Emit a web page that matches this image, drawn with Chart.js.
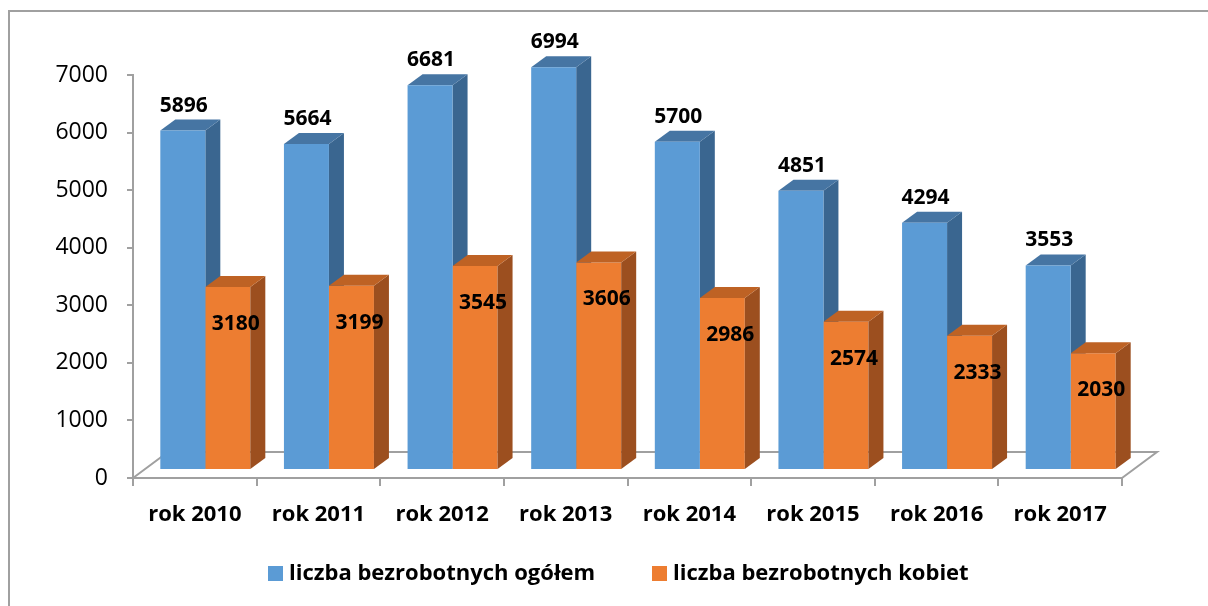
<!DOCTYPE html>
<html>
<head>
<meta charset="utf-8">
<script src="https://cdn.jsdelivr.net/npm/chart.js@4/dist/chart.umd.min.js"></script>
<style>
  html, body { margin: 0; padding: 0; background: #fff; }
  canvas { display: block; }
</style>
</head>
<body>
<canvas id="c" width="1208" height="606"></canvas>
<script>
const categories = ['rok 2010', 'rok 2011', 'rok 2012', 'rok 2013', 'rok 2014', 'rok 2015', 'rok 2016', 'rok 2017'];
const totalValues = [5896, 5664, 6681, 6994, 5700, 4851, 4294, 3553];
const womenValues = [3180, 3199, 3545, 3606, 2986, 2574, 2333, 2030];
const seriesLabels = ['liczba bezrobotnych ogółem', 'liczba bezrobotnych kobiet'];
const yMin = 0, yMax = 7000, yStep = 1000;

const FONT = "'Open Sans', 'Liberation Sans', sans-serif";
const GRAY = '#A0A0A0';
// bar placement inside the 3D floor
const SHIFT_X = 10.5, SHIFT_Y = -8;
// bar depth
const DEP_X = 15, DEP_Y = 11;
// floor depth
const FLOOR_X = 35, FLOOR_Y = 26;

const faceColors = [
  { front: '#5B9BD5', side: '#3A6690', top: '#4675A3' },
  { front: '#ED7D31', side: '#9C4F1F', top: '#BE6224' }
];

function drawSideTop(ctx, meta, col) {
  meta.data.forEach(el => {
    const l = el.x - el.width / 2, r = el.x + el.width / 2, t = el.y, b = el.base;
    ctx.fillStyle = col.side;
    ctx.beginPath();
    ctx.moveTo(r, t); ctx.lineTo(r + DEP_X, t - DEP_Y);
    ctx.lineTo(r + DEP_X, b - DEP_Y); ctx.lineTo(r, b);
    ctx.closePath(); ctx.fill();
    ctx.fillStyle = col.top;
    ctx.beginPath();
    ctx.moveTo(l, t); ctx.lineTo(l + DEP_X, t - DEP_Y);
    ctx.lineTo(r + DEP_X, t - DEP_Y); ctx.lineTo(r, t);
    ctx.closePath(); ctx.fill();
  });
}

const threeD = {
  id: 'threeD',
  beforeDraw(chart) {
    const ctx = chart.ctx;
    ctx.save();
    ctx.strokeStyle = GRAY;
    ctx.lineWidth = 2;
    ctx.beginPath();
    ctx.moveTo(9, chart.height + 5);
    ctx.lineTo(9, 11);
    ctx.lineTo(chart.width + 5, 11);
    ctx.stroke();
    ctx.restore();
  },
  beforeDatasetsDraw(chart) {
    const ctx = chart.ctx, a = chart.chartArea;
    ctx.save();
    ctx.strokeStyle = GRAY;
    ctx.lineWidth = 2;
    ctx.beginPath();
    ctx.moveTo(a.left, a.bottom);
    ctx.lineTo(a.left + FLOOR_X, a.bottom - FLOOR_Y);
    ctx.lineTo(a.right + FLOOR_X, a.bottom - FLOOR_Y);
    ctx.lineTo(a.right, a.bottom);
    ctx.stroke();
    // side and top faces of the first series go behind the second series
    ctx.translate(SHIFT_X, SHIFT_Y);
    drawSideTop(ctx, chart.getDatasetMeta(0), faceColors[0]);
    ctx.restore();
  },
  beforeDatasetDraw(chart) {
    chart.ctx.save();
    chart.ctx.translate(SHIFT_X, SHIFT_Y);
  },
  afterDatasetDraw(chart, args) {
    const ctx = chart.ctx;
    if (args.index === 1) drawSideTop(ctx, args.meta, faceColors[1]);
    ctx.restore();
  },
  afterDatasetsDraw(chart) {
    const ctx = chart.ctx;
    ctx.save();
    ctx.font = "bold 21px " + FONT;
    ctx.fillStyle = '#000';
    ctx.textAlign = 'center';
    ctx.textBaseline = 'middle';
    chart.getDatasetMeta(0).data.forEach((el, i) => {
      ctx.fillText(String(chart.data.datasets[0].data[i]), el.x + SHIFT_X + 1, el.y + SHIFT_Y - 25);
    });
    chart.getDatasetMeta(1).data.forEach((el, i) => {
      ctx.fillText(String(chart.data.datasets[1].data[i]), el.x + SHIFT_X + 8, el.y + SHIFT_Y + 37);
    });
    ctx.restore();
  },
  afterDraw(chart) {
    const ctx = chart.ctx;
    const pos = [268, 652];
    ctx.save();
    ctx.font = "bold 22px " + FONT;
    ctx.textAlign = 'left';
    ctx.textBaseline = 'middle';
    chart.data.datasets.forEach((ds, i) => {
      ctx.fillStyle = ds.backgroundColor;
      ctx.fillRect(pos[i], 566, 15, 15);
      ctx.fillStyle = '#000';
      ctx.fillText(ds.label, pos[i] + 21, 574);
    });
    ctx.restore();
  }
};

new Chart(document.getElementById('c'), {
  type: 'bar',
  data: {
    labels: categories,
    datasets: [
      { label: seriesLabels[0], data: totalValues, backgroundColor: faceColors[0].front, clip: false },
      { label: seriesLabels[1], data: womenValues, backgroundColor: faceColors[1].front, clip: false }
    ]
  },
  options: {
    responsive: false,
    animation: false,
    devicePixelRatio: 1,
    barPercentage: 1,
    categoryPercentage: 0.728,
    layout: { padding: { top: 75, right: 86, bottom: 0, left: 0 } },
    plugins: { legend: { display: false }, tooltip: { enabled: false } },
    scales: {
      x: {
        grid: { display: true, drawOnChartArea: false, drawTicks: true, tickLength: 8, color: GRAY, lineWidth: 2 },
        border: { display: true, color: GRAY, width: 2 },
        ticks: { font: { family: FONT, size: 22, weight: 'bold' }, color: '#000', padding: 16 },
        afterFit(s) { s.height = 128; }
      },
      y: {
        min: yMin, max: yMax,
        grid: { display: true, drawOnChartArea: false, drawTicks: true, tickLength: 6, color: GRAY, lineWidth: 2 },
        border: { display: true, color: GRAY, width: 2 },
        ticks: { stepSize: yStep, font: { family: FONT, size: 23 }, color: '#000', padding: 19,
                 callback: v => String(v) },
        afterFit(s) { s.width = 133; }
      }
    }
  },
  plugins: [threeD]
});
</script>
</body>
</html>
